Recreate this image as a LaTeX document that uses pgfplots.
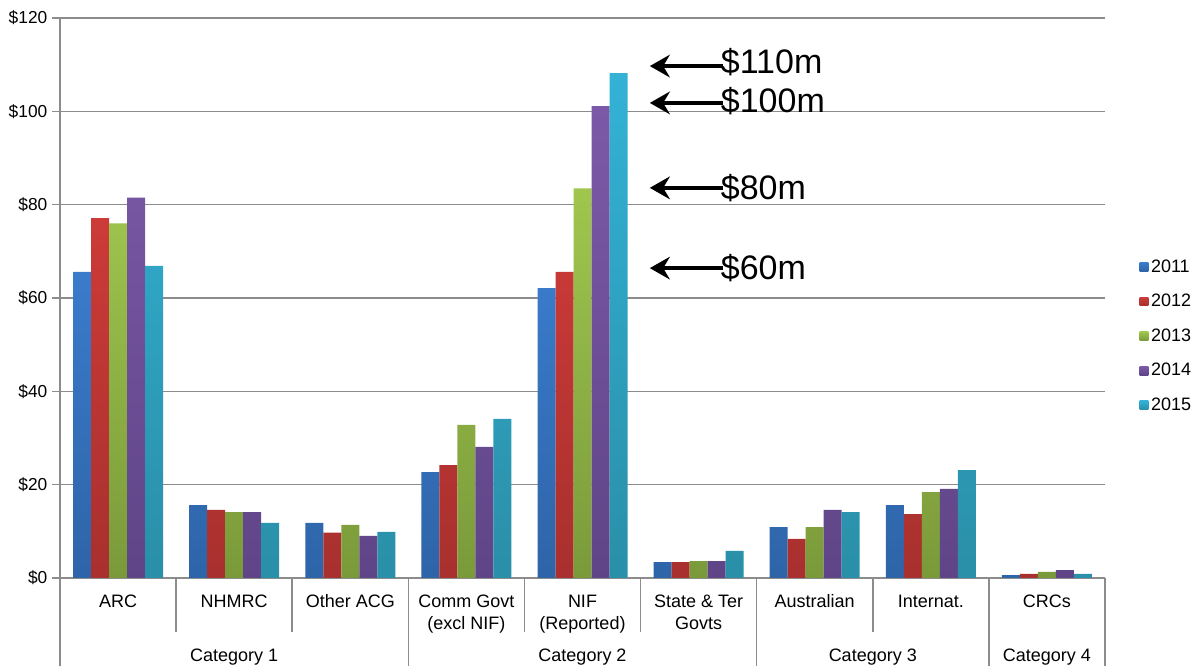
\documentclass[border=0pt]{standalone}
\usepackage{pgfplots}
\pgfplotsset{compat=1.18}
\usepackage{pgfplotstable}
\usepackage{fontspec}
\setmainfont{Liberation Sans}
\usetikzlibrary{arrows.meta}

\definecolor{cA1}{HTML}{3A7BCB}\definecolor{cA2}{HTML}{2E64A8}
\definecolor{cB1}{HTML}{CC3B38}\definecolor{cB2}{HTML}{A8302E}
\definecolor{cC1}{HTML}{A0C64E}\definecolor{cC2}{HTML}{7A9A3A}
\definecolor{cD1}{HTML}{7C59A8}\definecolor{cD2}{HTML}{5F4587}
\definecolor{cE1}{HTML}{33B2D6}\definecolor{cE2}{HTML}{2A8FA8}
\definecolor{gridgray}{HTML}{8C8C8C}

\pgfplotstableread{
x  a     b     c     d     e
0  65.6  77.1  76.0  81.5  66.9
1  15.6  14.6  14.1  14.1  11.8
2  11.8   9.7  11.4   9.0   9.9
3  22.7  24.2  32.8  28.1  34.1
4  62.1  65.6  83.5 101.1 108.2
5   3.4   3.4   3.6   3.6   5.8
6  10.9   8.4  10.9  14.6  14.1
7  15.6  13.7  18.4  19.1  23.1
8   0.6   0.9   1.3   1.7   0.9
}\datatable

\tikzset{
  sep/.style={gridgray, line width=1.1pt},
  ann/.style={line width=3.1pt, -{Stealth[length=15pt,width=17pt,inset=5pt]}},
  annt/.style={anchor=west, inner sep=0pt, font=\fontsize{25.5}{28}\selectfont},
  catl/.style={font=\fontsize{13.5}{16}\selectfont},
}

\begin{document}
\begin{tikzpicture}
\begin{axis}[
  at={(0,0)}, anchor=south west,
  scale only axis,
  width=783.75pt, height=420pt,
  ymin=0, ymax=120,
  xmin=-0.5, xmax=8.5,
  ytick={0,20,40,60,80,100,120},
  yticklabels={\$0,\$20,\$40,\$60,\$80,\$100,\$120},
  xtick=data,
  xticklabels={ARC,NHMRC,Other ACG,{Comm Govt\\(excl NIF)},{NIF\\(Reported)},{State \& Ter\\Govts},Australian,Internat.,CRCs},
  xticklabel style={align=center, font=\fontsize{13.5}{16.5}\selectfont, yshift=-3pt},
  yticklabel style={font=\fontsize{13}{15}\selectfont},
  major x tick style={draw=none},
  ytick align=outside,
  major tick length=6pt,
  axis x line*=bottom,
  axis y line*=left,
  axis line style={gridgray, line width=1.1pt, -},
  y tick style={gridgray, line width=1.1pt},
  ymajorgrids,
  major grid style={gridgray, line width=1.1pt},
  ybar=0pt,
  bar width=13.5pt,
  legend style={at={(1.029,0.432)}, anchor=west, draw=none,
    font=\fontsize{13.5}{16}\selectfont, row sep=11pt},
  legend cell align=left,
  legend image code/.code={\fill[#1] (-3.8pt,-3.3pt) rectangle (2.8pt,3.3pt);},
  clip=false,
]
\addplot[draw=none, top color=cA1, bottom color=cA2] table[x=x,y=a]{\datatable};
\addplot[draw=none, top color=cB1, bottom color=cB2] table[x=x,y=b]{\datatable};
\addplot[draw=none, top color=cC1, bottom color=cC2] table[x=x,y=c]{\datatable};
\addplot[draw=none, top color=cD1, bottom color=cD2] table[x=x,y=d]{\datatable};
\addplot[draw=none, top color=cE1, bottom color=cE2] table[x=x,y=e]{\datatable};
\legend{2011,2012,2013,2014,2015}

% separators below the axis
\draw[sep] (axis cs:0.5,0) -- ([yshift=-40.5pt]axis cs:0.5,0);
\draw[sep] (axis cs:1.5,0) -- ([yshift=-40.5pt]axis cs:1.5,0);
\draw[sep] (axis cs:3.5,0) -- ([yshift=-40.5pt]axis cs:3.5,0);
\draw[sep] (axis cs:4.5,0) -- ([yshift=-40.5pt]axis cs:4.5,0);
\draw[sep] (axis cs:6.5,0) -- ([yshift=-40.5pt]axis cs:6.5,0);
\draw[sep] (axis cs:-0.5,0) -- ([yshift=-66pt]axis cs:-0.5,0);
\draw[sep] (axis cs:2.5,0) -- ([yshift=-66pt]axis cs:2.5,0);
\draw[sep] (axis cs:5.5,0) -- ([yshift=-66pt]axis cs:5.5,0);
\draw[sep] (axis cs:7.5,0) -- ([yshift=-66pt]axis cs:7.5,0);
\draw[sep] (axis cs:8.5,0) -- ([yshift=-66pt]axis cs:8.5,0);
\node[catl] at ([yshift=-59pt]axis cs:1,0) {Category 1};
\node[catl] at ([yshift=-59pt]axis cs:4,0) {Category 2};
\node[catl] at ([yshift=-59pt]axis cs:6.5,0) {Category 3};
\node[catl] at ([yshift=-59pt]axis cs:8,0) {Category 4};

% annotations
\draw[ann] (axis cs:5.21,109.7) -- (axis cs:4.58,109.7);
\node[annt] at (axis cs:5.19,110.6) {\$110m};
\draw[ann] (axis cs:5.21,101.8) -- (axis cs:4.58,101.8);
\node[annt] at (axis cs:5.19,102.2) {\$100m};
\draw[ann] (axis cs:5.21,83.6) -- (axis cs:4.58,83.6);
\node[annt] at (axis cs:5.19,83.6) {\$80m};
\draw[ann] (axis cs:5.21,66.4) -- (axis cs:4.58,66.4);
\node[annt] at (axis cs:5.19,66.4) {\$60m};
\end{axis}
\pgfresetboundingbox
\path[use as bounding box] (-45pt,-66pt) rectangle (850.5pt,433.5pt);
\end{tikzpicture}
\end{document}
